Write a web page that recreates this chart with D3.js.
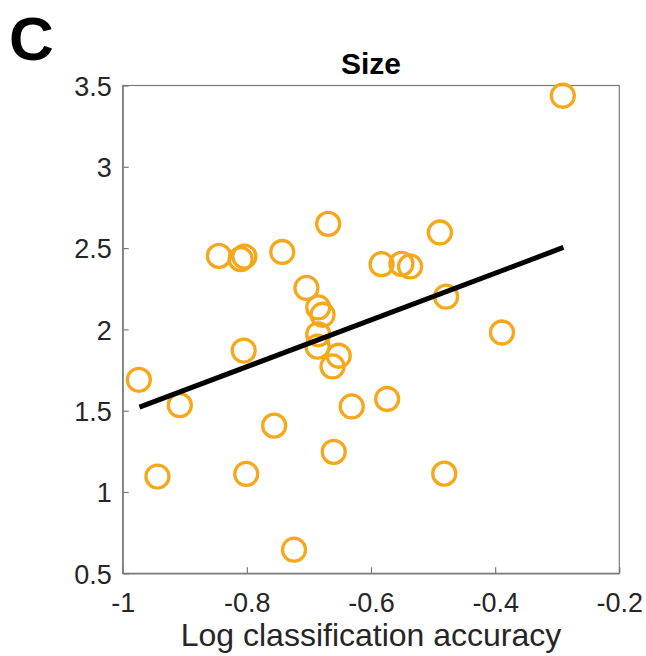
<!DOCTYPE html>
<html>
<head>
<meta charset="utf-8">
<script src="https://cdn.jsdelivr.net/npm/d3@7"></script>
<style>
  html, body { margin: 0; padding: 0; background: #fff; }
  svg { display: block; }
</style>
</head>
<body>
<svg id="chart" width="646" height="656"></svg>
<script>
// ---- data ----
const panelLabel = "C";
const title = "Size";
const xLabel = "Log classification accuracy";
const xDomain = [-1, -0.2];
const yDomain = [0.5, 3.5];
const xTicks = [-1, -0.8, -0.6, -0.4, -0.2];
const yTicks = [0.5, 1, 1.5, 2, 2.5, 3, 3.5];
const xTickLabels = ["-1", "-0.8", "-0.6", "-0.4", "-0.2"];
const yTickLabels = ["0.5", "1", "1.5", "2", "2.5", "3", "3.5"];

const accuracy = [
  -0.291, -0.669, -0.489, -0.845, -0.810, -0.804, -0.743, -0.583, -0.551, -0.537,
  -0.704, -0.685, -0.678, -0.479, -0.389, -0.685, -0.686, -0.805, -0.652, -0.662,
  -0.974, -0.908, -0.631, -0.574, -0.756, -0.660, -0.944, -0.801, -0.482, -0.724
];
const sizeValues = [
  3.437, 2.649, 2.596, 2.452, 2.432, 2.448, 2.476, 2.401, 2.403, 2.387,
  2.255, 2.135, 2.090, 2.201, 1.981, 1.970, 1.894, 1.870, 1.838, 1.772,
  1.690, 1.534, 1.526, 1.572, 1.408, 1.247, 1.095, 1.111, 1.113, 0.645
];
// fitted regression line: y = intercept + slope * x
const fitSlope = 1.438;
const fitIntercept = 2.921;
const fitXRange = [-0.973, -0.290];

// ---- layout ----
const svg = d3.select("#chart");
const mLeft = 122.7, mRight = 619.3, mTop = 85.5, mBottom = 573.3;
const x = d3.scaleLinear().domain(xDomain).range([mLeft, mRight]);
const y = d3.scaleLinear().domain(yDomain).range([mBottom, mTop]);
const axisColor = "#7a7a7a";
const textColor = "#262626";
const font = "'Liberation Sans', Arial, Helvetica, sans-serif";

// box
svg.append("rect")
  .attr("x", mLeft).attr("y", mTop)
  .attr("width", mRight - mLeft).attr("height", mBottom - mTop)
  .attr("fill", "none").attr("stroke", axisColor).attr("stroke-width", 1.2);

// axes
const xAxis = d3.axisBottom(x).tickValues(xTicks)
  .tickFormat((d, i) => xTickLabels[i]).tickSizeInner(-6).tickSizeOuter(0).tickPadding(10);
const yAxis = d3.axisLeft(y).tickValues(yTicks)
  .tickFormat((d, i) => yTickLabels[i]).tickSizeInner(-6).tickSizeOuter(0).tickPadding(11);

const gx = svg.append("g").attr("transform", `translate(0,${mBottom})`).call(xAxis);
const gy = svg.append("g").attr("transform", `translate(${mLeft},0)`).call(yAxis);
[gx, gy].forEach(g => {
  g.select(".domain").attr("stroke", axisColor).attr("stroke-width", 1.2);
  g.selectAll(".tick line").attr("stroke", axisColor).attr("stroke-width", 1.2);
  g.selectAll(".tick text")
    .attr("fill", textColor)
    .style("font-family", font)
    .style("font-size", "27px");
});
gx.selectAll(".tick text").attr("dy", "0.71em").attr("y", 20);
gy.selectAll(".tick text").attr("dy", "0.36em");

// points
svg.append("g").selectAll("circle")
  .data(accuracy.map((a, i) => [a, sizeValues[i]]))
  .join("circle")
  .attr("cx", d => x(d[0]))
  .attr("cy", d => y(d[1]))
  .attr("r", 11.5)
  .attr("fill", "none")
  .attr("stroke", "#F5A81C")
  .attr("stroke-width", 3.3);

// regression line
svg.append("line")
  .attr("x1", x(fitXRange[0])).attr("y1", y(fitIntercept + fitSlope * fitXRange[0]))
  .attr("x2", x(fitXRange[1])).attr("y2", y(fitIntercept + fitSlope * fitXRange[1]))
  .attr("stroke", "#000").attr("stroke-width", 5);

// title
svg.append("text")
  .attr("x", (mLeft + mRight) / 2).attr("y", 74)
  .attr("text-anchor", "middle")
  .style("font-family", font).style("font-weight", "bold").style("font-size", "30px")
  .attr("fill", "#000")
  .text(title);

// x label
svg.append("text")
  .attr("x", (mLeft + mRight) / 2).attr("y", 646)
  .attr("text-anchor", "middle")
  .style("font-family", font).style("font-size", "32px")
  .attr("fill", textColor)
  .text(xLabel);

// panel label
svg.append("text")
  .attr("x", 9).attr("y", 60)
  .style("font-family", font).style("font-weight", "bold").style("font-size", "62px")
  .attr("fill", "#000")
  .text(panelLabel);
</script>
</body>
</html>
